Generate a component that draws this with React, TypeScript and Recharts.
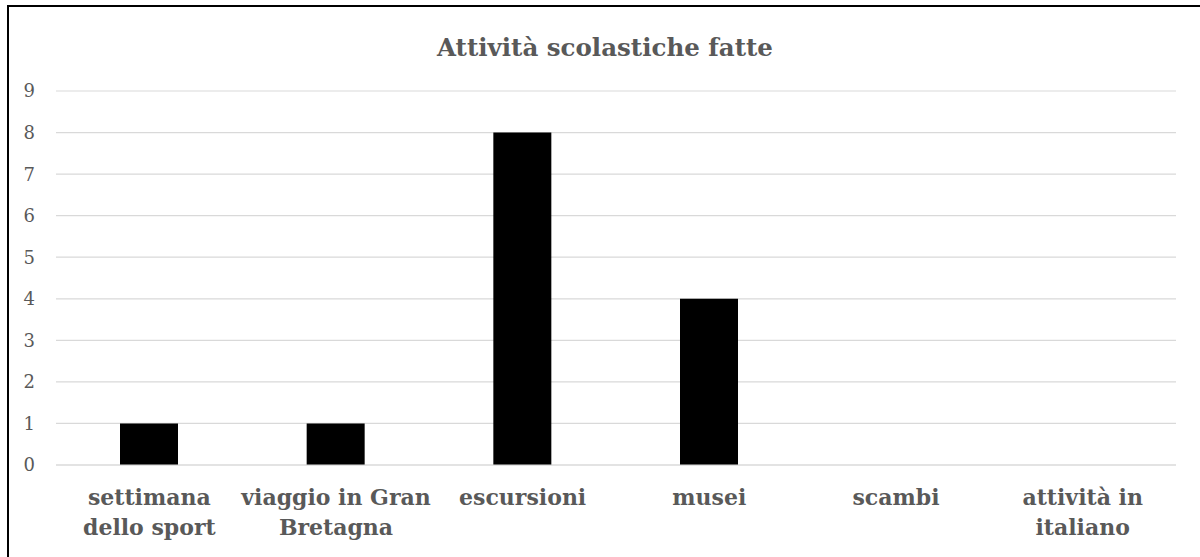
import React from "react";
import { BarChart, Bar, XAxis, YAxis, CartesianGrid } from "recharts";

const categories = [
  "settimana\ndello sport",
  "viaggio in Gran\nBretagna",
  "escursioni",
  "musei",
  "scambi",
  "attività in\nitaliano",
];
const values = [1, 1, 8, 4, 0, 0];
const yTicks = [0, 1, 2, 3, 4, 5, 6, 7, 8, 9];
const title = "Attività scolastiche fatte";

const data = categories.map((name, i) => ({ name, value: values[i] }));

const FONT = "'DejaVu Serif', serif";
const GREY = "#595959";

function CategoryTick(props: any) {
  const { x, y, payload } = props;
  const lines = String(payload.value).split("\n");
  return (
    <text
      x={x}
      y={y}
      textAnchor="middle"
      fill={GREY}
      fontFamily={FONT}
      fontWeight="bold"
      fontSize={22}
    >
      {lines.map((line, i) => (
        <tspan key={i} x={x} dy={i === 0 ? 38 : 30}>
          {line}
        </tspan>
      ))}
    </text>
  );
}

export default function App() {
  return (
    <div style={{ position: "absolute", left: 0, top: 0, width: 1200, height: 557, background: "#fff", overflow: "hidden" }}>
      <div
        style={{
          position: "absolute",
          left: 7,
          top: 5,
          width: 1300,
          height: 700,
          borderTop: "2px solid #000",
          borderLeft: "2px solid #000",
        }}
      />
      <div
        style={{
          position: "absolute",
          left: 305,
          width: 600,
          top: 30,
          textAlign: "center",
          fontFamily: FONT,
          fontWeight: "bold",
          fontSize: 24.5,
          color: GREY,
          lineHeight: "36px",
        }}
      >
        {title}
      </div>
      <div style={{ position: "absolute", left: 0, top: 0 }}>
        <BarChart
          width={1200}
          height={557}
          data={data}
          margin={{ top: 91, right: 24, left: 0, bottom: 0 }}
          barSize={58}
        >
          <CartesianGrid vertical={false} stroke="#d9d9d9" strokeWidth={1.2} />
          <XAxis
            dataKey="name"
            axisLine={{ stroke: "#d9d9d9", strokeWidth: 1.2 }}
            tickLine={false}
            tickSize={0}
            height={92}
            interval={0}
            tick={<CategoryTick />}
          />
          <YAxis
            width={56}
            domain={[0, 9]}
            ticks={yTicks}
            axisLine={false}
            tickLine={false}
            tickSize={0}
            tickMargin={21}
            tick={{ fill: GREY, fontFamily: FONT, fontSize: 18 }}
          />
          <Bar dataKey="value" fill="#000000" isAnimationActive={false} />
        </BarChart>
      </div>
    </div>
  );
}
